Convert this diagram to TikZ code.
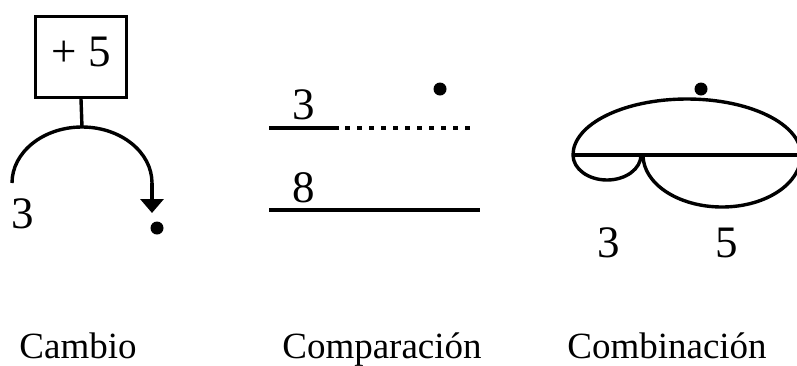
\documentclass[tikz,border=0pt]{standalone}
\usepackage{fontspec}
\setmainfont{Liberation Serif}
\usetikzlibrary{arrows.meta}
\begin{document}
\begin{tikzpicture}[x=1pt,y=-1pt,
  ln/.style={line width=3.4pt},
  lbl/.style={inner sep=0pt,anchor=base,font=\fontsize{37}{40}\selectfont},
  num/.style={inner sep=0pt,anchor=base,font=\fontsize{45}{50}\selectfont},
  pt/.style={fill=black,circle,inner sep=0pt,minimum size=13pt}]
\useasboundingbox (0,0) rectangle (797,365);
\clip (0,0) rectangle (797,365);
% ---------- Cambio ----------
\node[draw,line width=3pt,minimum width=91pt,minimum height=81pt,inner sep=0pt] (box) at (81,57) {};
\node[num] (plus) at (81.5,66) {+ 5};
\coordinate (arctop) at (82,127);
\coordinate (arcL) at (12,183);
\coordinate (arcR) at (152,183);
\coordinate (tip) at (152,213);
\draw[ln] (box.south) -- (arctop);
\draw[ln] (arcL) arc[start angle=180,end angle=360,x radius=70,y radius=56];
\draw[ln,-{Triangle[width=23pt,length=14pt]}] (arcR) -- (tip);
\node[num] (c3) at (22.5,228) {3};
\node[pt] (cdot) at (157,228) {};
\node[lbl] (lcambio) at (78,358) {Cambio};
% ---------- Comparacion ----------
\node[num] (p3) at (304,119) {3};
\node[num] (p8) at (304,202) {8};
\coordinate (l1a) at (269,128);
\coordinate (l1b) at (339,128);
\coordinate (l1c) at (345,128);
\coordinate (l1d) at (474,128);
\coordinate (l2a) at (269,210);
\coordinate (l2b) at (480,210);
\draw[ln] (l1a) -- (l1b);
\draw[ln,dash pattern=on 5pt off 7pt] (l1c) -- (l1d);
\draw[ln] (l2a) -- (l2b);
\node[pt] (pdot) at (440,89) {};
\node[lbl] (lcomp) at (382,358) {Comparación};
% ---------- Combinacion ----------
\coordinate (eL) at (573,155);
\coordinate (eR) at (801,155);
\coordinate (cusp) at (643,155);
\draw[ln] (eL) arc[start angle=180,end angle=360,x radius=114,y radius=56];
\draw[ln] (eL) -- (eR);
\draw[ln] (eL) arc[start angle=180,end angle=0,x radius=34,y radius=25];
\draw[ln] (eR) arc[start angle=0,end angle=180,x radius=79,y radius=52];
\node[pt] (kdot) at (701,89) {};
\node[num] (k3) at (608.5,257) {3};
\node[num] (k5) at (726.5,257) {5};
\node[lbl] (lcomb) at (667,358) {Combinación};
\end{tikzpicture}
\end{document}
